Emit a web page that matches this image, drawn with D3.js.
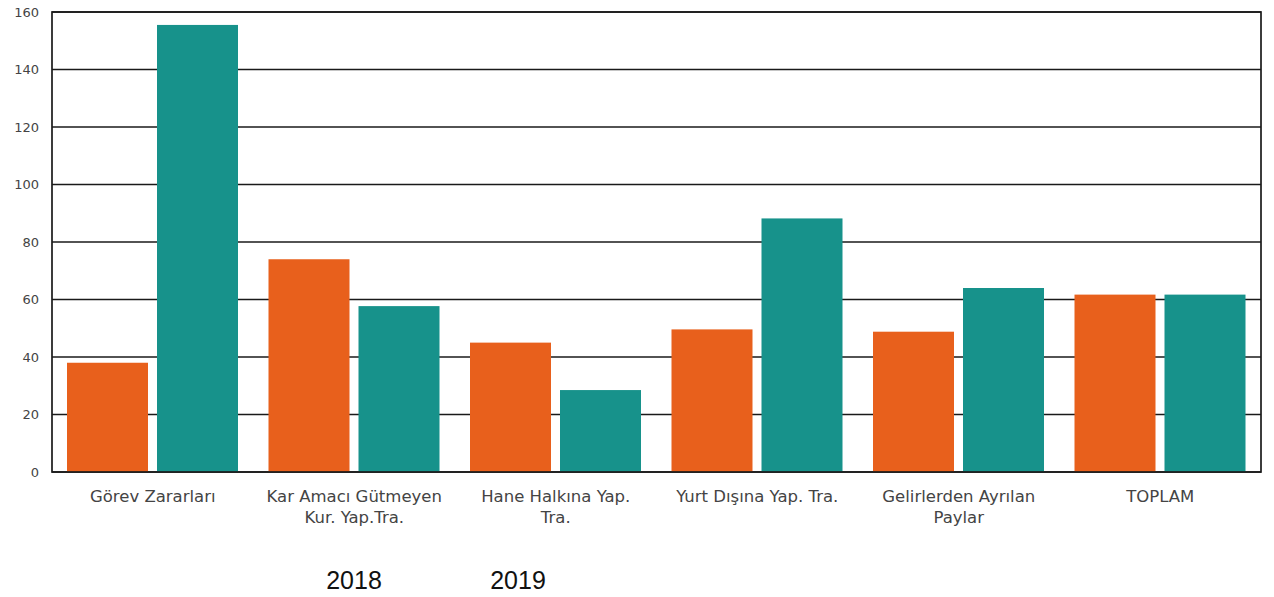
<!DOCTYPE html>
<html><head><meta charset="utf-8">
<script src="https://cdn.jsdelivr.net/npm/d3@7"></script>
<style>body{margin:0;background:#fff;}svg{display:block;}</style>
</head><body>
<svg id="c" width="1274" height="597"></svg>
<script>
const categories = [
  ["Görev Zararları"],
  ["Kar Amacı Gütmeyen", "Kur. Yap.Tra."],
  ["Hane Halkına Yap.", "Tra."],
  ["Yurt Dışına Yap. Tra."],
  ["Gelirlerden Ayrılan", "Paylar"],
  ["TOPLAM"]
];
const series = ["2018", "2019"];
const values2018 = [38, 74, 45, 49.6, 48.8, 61.7];
const values2019 = [155.5, 57.7, 28.5, 88.2, 64, 61.7];
const yTicks = [0, 20, 40, 60, 80, 100, 120, 140, 160];
const colors = ["#E8601C", "#17928B"];

const svg = d3.select("#c");
const L = 52, R = 1261, T = 12, B = 472;
const x = d3.scaleBand().domain(d3.range(categories.length)).range([L, R]).paddingInner(0).paddingOuter(0);
const y = d3.scaleLinear().domain([0, 160]).range([B, T]);
const inner = d3.scaleBand().domain(series).range([15, x.bandwidth() - 15.5]).paddingInner(0.1);

// gridlines
svg.append("g").selectAll("line").data(yTicks).join("line")
  .attr("x1", L).attr("x2", R).attr("y1", d => y(d)).attr("y2", d => y(d))
  .attr("stroke", "#1a1a1a").attr("stroke-width", 1.7);

// bars
const data = [values2018, values2019];
series.forEach((s, si) => {
  svg.append("g").selectAll("rect").data(data[si]).join("rect")
    .attr("x", (d, i) => x(i) + inner(s))
    .attr("width", inner.bandwidth())
    .attr("y", d => y(d))
    .attr("height", d => B - y(d))
    .attr("fill", colors[si]);
});

// frame
svg.append("rect").attr("x", L).attr("y", T).attr("width", R - L).attr("height", B - T)
  .attr("fill", "none").attr("stroke", "#1a1a1a").attr("stroke-width", 1.7);

// y axis labels
const yAxis = d3.axisLeft(y).tickValues(yTicks).tickSize(0).tickPadding(13);
const ya = svg.append("g").attr("transform", `translate(${L},0)`).call(yAxis);
ya.select(".domain").remove();
ya.selectAll("text").attr("font-family", "DejaVu Sans, Verdana, sans-serif").attr("font-size", 13).attr("fill", "#444");

// x labels
const xl = svg.append("g");
categories.forEach((lines, i) => {
  const t = xl.append("text").attr("text-anchor", "middle")
    .attr("font-family", "DejaVu Sans, Verdana, sans-serif").attr("font-size", 16.5).attr("fill", "#444");
  lines.forEach((ln, k) => {
    t.append("tspan").attr("x", x(i) + x.bandwidth() / 2).attr("y", 502 + k * 21).text(ln);
  });
});

// legend
const legX = [354, 518];
series.forEach((s, si) => {
  svg.append("text").attr("x", legX[si]).attr("y", 589).attr("text-anchor", "middle")
    .attr("font-family", "Liberation Sans, Arial, sans-serif").attr("font-size", 25).attr("fill", "#111").text(s);
});
</script>
</body></html>
